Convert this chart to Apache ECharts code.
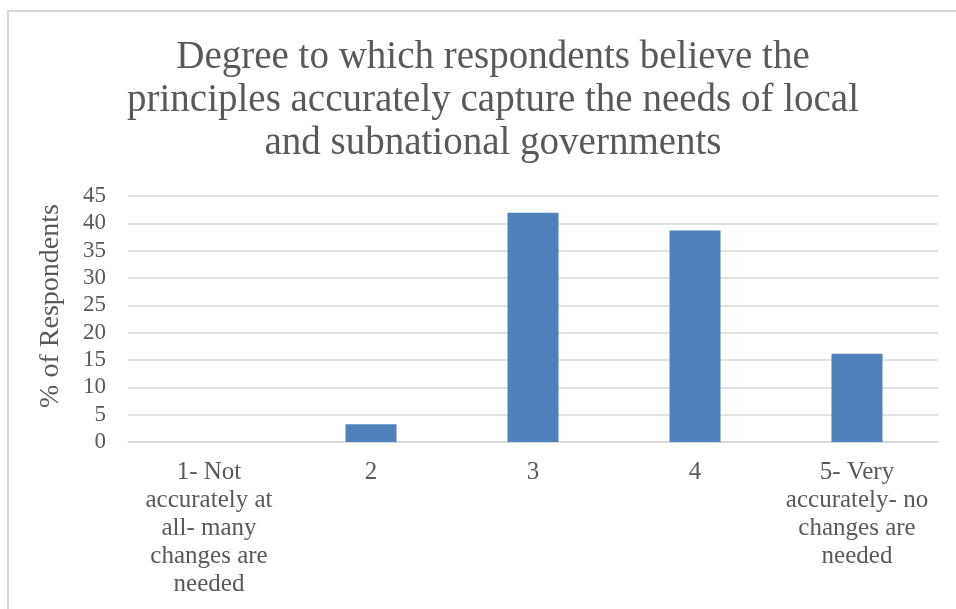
<!DOCTYPE html>
<html>
<head>
<meta charset="utf-8">
<script src="https://cdn.jsdelivr.net/npm/echarts@6/dist/echarts.min.js"></script>
<style>
  html, body { margin: 0; padding: 0; background: #ffffff; }
  #chart { width: 956px; height: 609px; }
</style>
</head>
<body>
<div id="chart"></div>
<script>
// Survey responses: share of respondents per rating
const titleText = 'Degree to which respondents believe the\nprinciples accurately capture the needs of local\nand subnational governments';
const categories = [
  '1- Not\naccurately at\nall- many\nchanges are\nneeded',
  '2',
  '3',
  '4',
  '5- Very\naccurately- no\nchanges are\nneeded'
];
const percentValues = [0, 3.23, 41.94, 38.71, 16.13];
const yAxisName = '% of Respondents';
const yMin = 0, yMax = 45, yStep = 5;

const FONT = '"Liberation Serif", "DejaVu Serif", serif';
const TEXT_COLOR = '#595959';
const GRID_COLOR = '#d9d9d9';

const chart = echarts.init(document.getElementById('chart'), null, { renderer: 'canvas' });

chart.setOption({
  backgroundColor: '#ffffff',
  animation: false,
  graphic: [{
    type: 'rect',
    shape: { x: 8, y: 11, width: 960, height: 620 },
    style: { fill: 'none', stroke: GRID_COLOR, lineWidth: 2 },
    silent: true
  }],
  title: {
    text: titleText,
    left: 488,
    top: 31,
    textAlign: 'center',
    textStyle: {
      fontFamily: FONT,
      fontSize: 39,
      fontWeight: 'normal',
      color: TEXT_COLOR,
      lineHeight: 43
    }
  },
  grid: {
    left: 128,
    right: 18,
    top: 196,
    bottom: 167,
    containLabel: false
  },
  xAxis: {
    type: 'category',
    data: categories,
    axisTick: { show: false },
    axisLine: { show: true, lineStyle: { color: GRID_COLOR, width: 1.5 } },
    axisLabel: {
      interval: 0,
      margin: 16,
      fontFamily: FONT,
      fontSize: 25,
      color: TEXT_COLOR,
      lineHeight: 28,
      align: 'center'
    }
  },
  yAxis: {
    type: 'value',
    min: yMin,
    max: yMax,
    interval: yStep,
    name: yAxisName,
    nameLocation: 'middle',
    nameRotate: 90,
    nameGap: 63,
    nameTextStyle: {
      fontFamily: FONT,
      fontSize: 28,
      color: TEXT_COLOR,
      padding: [0, 0, 0, 26]
    },
    axisLine: { show: false },
    axisTick: { show: false },
    splitLine: { lineStyle: { color: GRID_COLOR, width: 1.5 } },
    axisLabel: {
      margin: 22,
      fontFamily: FONT,
      fontSize: 23,
      color: TEXT_COLOR
    }
  },
  series: [{
    type: 'bar',
    data: percentValues,
    barWidth: 51,
    itemStyle: {
      color: '#4f81bd'
    }
  }]
});
</script>
</body>
</html>
